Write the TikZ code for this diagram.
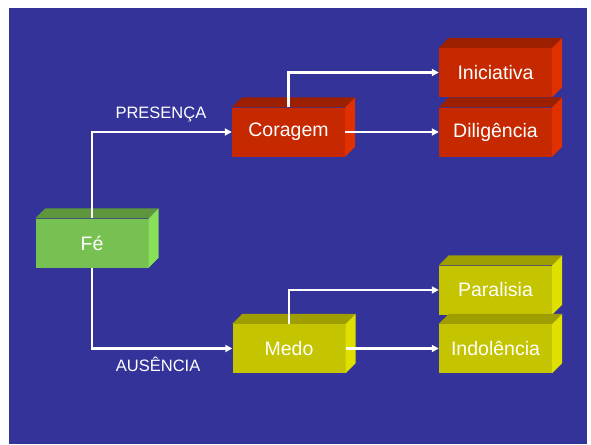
\documentclass[tikz,border=0pt]{standalone}
\usepackage{fontspec}
\setmainfont{Liberation Sans}
\usetikzlibrary{calc,arrows.meta}
\definecolor{fundo}{RGB}{51,51,153}
\definecolor{verde}{RGB}{119,193,82}
\definecolor{verdetopo}{RGB}{94,150,62}
\definecolor{verdelado}{RGB}{136,224,90}
\definecolor{vermelho}{RGB}{198,40,0}
\definecolor{vermelhotopo}{RGB}{156,32,0}
\definecolor{vermelholado}{RGB}{224,48,0}
\definecolor{amarelo}{RGB}{196,196,0}
\definecolor{amarelotopo}{RGB}{158,158,0}
\definecolor{amarelolado}{RGB}{224,224,0}
\tikzset{
  caixa/.style={rectangle, minimum width=113pt, minimum height=49pt, inner sep=0pt,
    text=white, font=\fontsize{19.5}{19.5}\selectfont},
  seta/.style={white, line width=2.2pt, -{Triangle[width=7pt,length=7pt]}},
  rotulo/.style={text=white, font=\fontsize{16.5}{16.5}\selectfont}
}
% top and right faces of a box node
\def\faces(#1)[#2][#3]{
  \fill[#2] (#1.north west) -- ++(10,-10) -- ($(#1.north east)+(10,-10)$) -- (#1.north east) -- cycle;
  \fill[#3] (#1.north east) -- ++(10,-10) -- ($(#1.south east)+(10,-10)$) -- (#1.south east) -- cycle;
}

\begin{document}
\begin{tikzpicture}[x=1pt,y=-1pt]
  %%%%% START %%%%%
  \useasboundingbox (0,0) rectangle (591,444);
  \fill[white] (0,0) rectangle (591,444);
  \fill[fundo] (9,8) rectangle (587,444);

  \node[caixa, fill=verde] (fe) at (92,243) {Fé};
  \faces(fe)[verdetopo][verdelado]

  \node[caixa, fill=vermelho] (coragem) at (288.5,132) {Coragem};
  \faces(coragem)[vermelhotopo][vermelholado]

  \node[caixa, fill=vermelho] (iniciativa) at (495.5,72.5) {Iniciativa};
  \faces(iniciativa)[vermelhotopo][vermelholado]

  \node[caixa, fill=vermelho] (diligencia) at (495.5,132) {Diligência};
  \faces(diligencia)[vermelhotopo][vermelholado]

  \node[caixa, fill=amarelo] (medo) at (289,348.5) {Medo};
  \faces(medo)[amarelotopo][amarelolado]

  \node[caixa, fill=amarelo] (paralisia) at (495.5,290) {Paralisia};
  \faces(paralisia)[amarelotopo][amarelolado]

  \node[caixa, fill=amarelo] (indolencia) at (495.5,348.5) {Indolência};
  \faces(indolencia)[amarelotopo][amarelolado]

  % connectors
  \draw[seta] (fe.north) |- node[rotulo, pos=0.75, above=6pt, xshift=-1pt] {PRESENÇA} (coragem.west);
  \draw[seta] (fe.south) |- node[rotulo, pos=0.75, below=4pt, xshift=-4pt] {AUSÊNCIA} (medo.west);
  \draw[seta] (coragem.north) |- (iniciativa.west);
  \draw[seta] (coragem.east) -- (diligencia.west);
  \draw[seta] (medo.north) |- (paralisia.west);
  \draw[seta] (medo.east) -- (indolencia.west);
  %%%%% END %%%%%
\end{tikzpicture}
\end{document}
